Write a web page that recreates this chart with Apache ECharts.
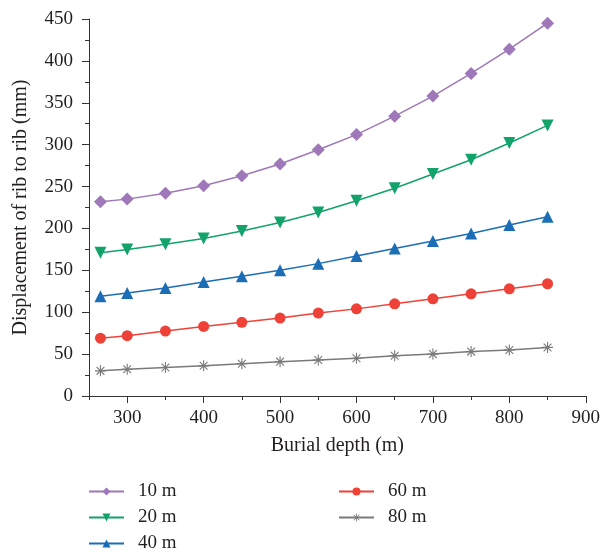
<!DOCTYPE html>
<html>
<head>
<meta charset="utf-8">
<script src="https://cdn.jsdelivr.net/npm/echarts@6/dist/echarts.min.js"></script>
<style>html,body{margin:0;padding:0;background:#fff}#c{width:603px;height:555px}</style>
</head>
<body>
<div id="c"></div>
<script>
const depth = [265, 300, 350, 400, 450, 500, 550, 600, 650, 700, 750, 800, 850];
const s10 = [232, 235, 242, 251, 263, 277, 294, 312, 334, 358, 385, 414, 445];
const s20 = [171, 175, 181, 188, 197, 207, 219, 233, 248, 265, 282, 302, 323];
const s40 = [119, 123, 129, 136, 143, 150, 158, 167, 176, 185, 194, 204, 214];
const s60 = [69, 72, 77.5, 83, 88, 93, 99, 104, 110, 116, 122, 128, 134];
const s80 = [30, 32, 34, 36, 38.5, 41, 43, 45, 48, 50, 53, 55, 58];
const seriesNames = ['10 m', '20 m', '40 m', '60 m', '80 m'];
const xMajorTicks = [300, 400, 500, 600, 700, 800, 900];
const xMinorTicks = [250, 350, 450, 550, 650, 750, 850];

const FONT = 'Liberation Serif';
const TXT = '#231f20';
const star = 'path://M-1,-10L1,-10L1,10L-1,10Z M-10,-1L10,-1L10,1L-10,1Z M-7.78,-6.36L-6.36,-7.78L7.78,6.36L6.36,7.78Z M6.36,-7.78L7.78,-6.36L-6.36,7.78L-7.78,6.36Z';

function pairs(ys) { return depth.map((d, i) => [d, ys[i]]); }

function mk(name, ys, color, symbol, size, rot) {
  return {
    name: name, type: 'line', data: pairs(ys),
    symbol: symbol, symbolSize: size, symbolRotate: rot || 0,
    lineStyle: { color: color, width: 1.5 },
    itemStyle: { color: color },
    emphasis: { disabled: true },
    animation: false
  };
}

const legendCommon = {
  orient: 'vertical', top: 482, padding: 0,
  itemWidth: 35, itemHeight: 10, itemGap: 7,
  textStyle: { fontFamily: FONT, fontSize: 19, color: TXT, padding: [0, 0, 0, 9] }
};

const chart = echarts.init(document.getElementById('c'));
chart.setOption({
  animation: false,
  grid: { left: 89, right: 16, top: 19, bottom: 159, containLabel: false },
  xAxis: [{
    type: 'value', min: 250, max: 900,
    name: 'Burial depth (m)', nameLocation: 'middle', nameGap: 40,
    nameTextStyle: { fontFamily: FONT, fontSize: 20, color: TXT },
    axisLine: { show: true, lineStyle: { color: '#333', width: 1 } },
    axisTick: { show: true, length: 7, customValues: xMajorTicks, lineStyle: { color: '#333' } },
    axisLabel: { customValues: xMajorTicks, margin: 13, fontFamily: FONT, fontSize: 19, color: TXT },
    splitLine: { show: false }
  }, {
    type: 'value', min: 250, max: 900, position: 'bottom',
    axisLine: { show: false },
    axisTick: { show: true, length: 4, customValues: xMinorTicks, lineStyle: { color: '#333' } },
    axisLabel: { show: false },
    splitLine: { show: false }
  }],
  yAxis: {
    type: 'value', min: 0, max: 450, interval: 50,
    name: 'Displacement of rib to rib (mm)', nameLocation: 'middle', nameGap: 58,
    nameTextStyle: { fontFamily: FONT, fontSize: 20, color: TXT },
    axisLine: { show: true, lineStyle: { color: '#333', width: 1 } },
    axisTick: { show: true, length: 7, lineStyle: { color: '#333' } },
    minorTick: { show: true, splitNumber: 2, length: 4, lineStyle: { color: '#333' } },
    axisLabel: { margin: 16, fontFamily: FONT, fontSize: 19, color: TXT },
    splitLine: { show: false }
  },
  legend: [
    Object.assign({ data: ['10 m', '20 m', '40 m'], left: 88 }, legendCommon),
    Object.assign({ data: ['60 m', '80 m'], left: 338 }, legendCommon)
  ],
  series: [
    mk(seriesNames[0], s10, '#9e78b8', 'diamond', 13),
    mk(seriesNames[1], s20, '#12a36a', 'triangle', 12, 180),
    mk(seriesNames[2], s40, '#1b6db5', 'triangle', 12),
    mk(seriesNames[3], s60, '#ee4137', 'circle', 11),
    mk(seriesNames[4], s80, '#7a7a7a', star, 11)
  ]
});
</script>
</body>
</html>
